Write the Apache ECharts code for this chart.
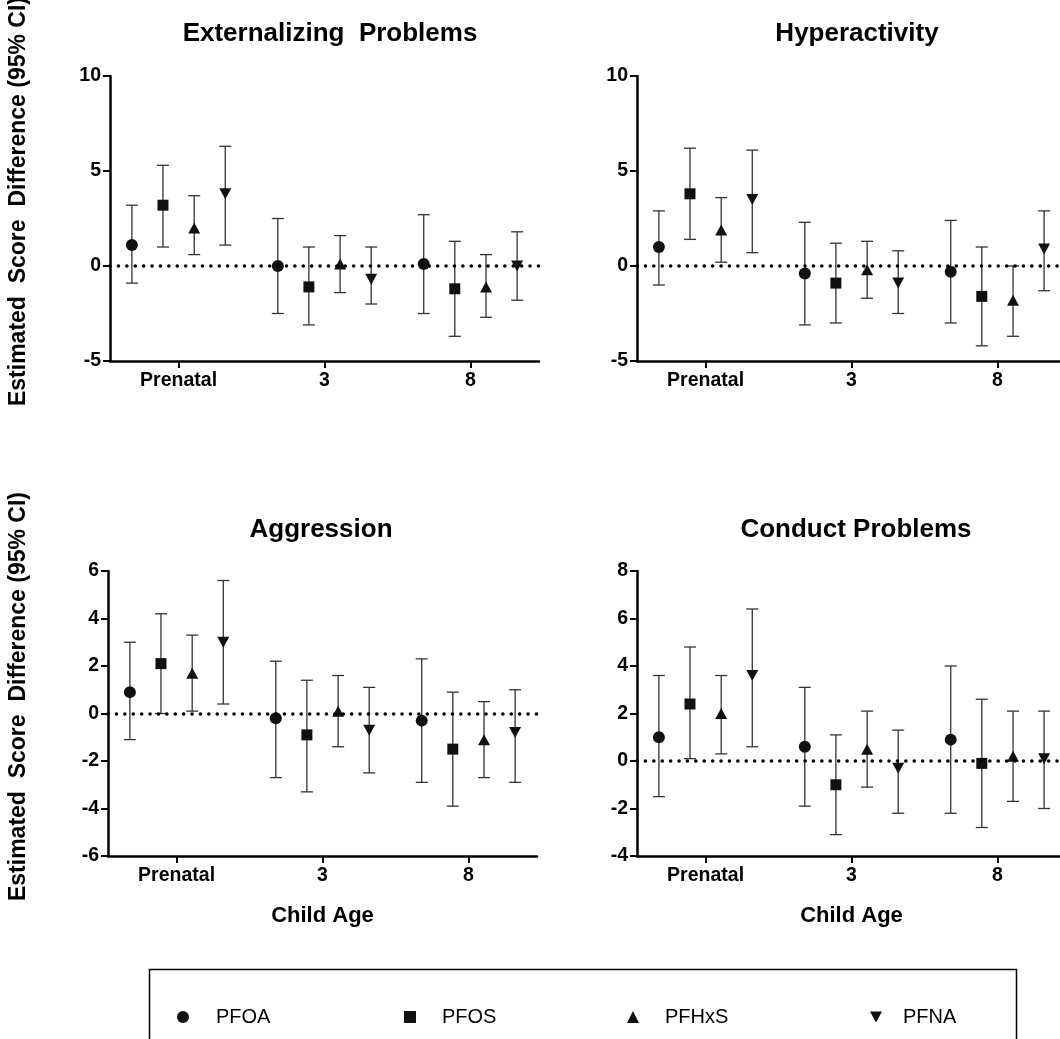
<!DOCTYPE html>
<html><head><meta charset="utf-8">
<script src="https://cdn.jsdelivr.net/npm/echarts@6/dist/echarts.min.js"></script>
<style>html,body{margin:0;padding:0;background:#fff}#c{width:1060px;height:1039px}</style>
</head><body><div id="c"></div>
<script>
// ---- data ----
const ages = ['Prenatal', '3', '8'];
const compounds = ['PFOA', 'PFOS', 'PFHxS', 'PFNA'];
const panelTitles = ['Externalizing  Problems', 'Hyperactivity', 'Aggression', 'Conduct Problems'];
const yTicks = [[-5, 10, 5], [-5, 10, 5], [-6, 6, 2], [-4, 8, 2]]; // [min, max, interval]

// rows = compounds (PFOA, PFOS, PFHxS, PFNA); cols = ages (Prenatal, 3, 8)
const extEst  = [[1.1, 0.0, 0.1], [3.2, -1.1, -1.2], [2.0, 0.1, -1.1], [3.8, -0.7, 0.0]];
const extLow  = [[-0.9, -2.5, -2.5], [1.0, -3.1, -3.7], [0.6, -1.4, -2.7], [1.1, -2.0, -1.8]];
const extHigh = [[3.2, 2.5, 2.7], [5.3, 1.0, 1.3], [3.7, 1.6, 0.6], [6.3, 1.0, 1.8]];

const hypEst  = [[1.0, -0.4, -0.3], [3.8, -0.9, -1.6], [1.9, -0.2, -1.8], [3.5, -0.9, 0.9]];
const hypLow  = [[-1.0, -3.1, -3.0], [1.4, -3.0, -4.2], [0.2, -1.7, -3.7], [0.7, -2.5, -1.3]];
const hypHigh = [[2.9, 2.3, 2.4], [6.2, 1.2, 1.0], [3.6, 1.3, 0.0], [6.1, 0.8, 2.9]];

const aggEst  = [[0.9, -0.2, -0.3], [2.1, -0.9, -1.5], [1.7, 0.1, -1.1], [3.0, -0.7, -0.8]];
const aggLow  = [[-1.1, -2.7, -2.9], [0.0, -3.3, -3.9], [0.1, -1.4, -2.7], [0.4, -2.5, -2.9]];
const aggHigh = [[3.0, 2.2, 2.3], [4.2, 1.4, 0.9], [3.3, 1.6, 0.5], [5.6, 1.1, 1.0]];

const conEst  = [[1.0, 0.6, 0.9], [2.4, -1.0, -0.1], [2.0, 0.5, 0.2], [3.6, -0.3, 0.1]];
const conLow  = [[-1.5, -1.9, -2.2], [0.1, -3.1, -2.8], [0.3, -1.1, -1.7], [0.6, -2.2, -2.0]];
const conHigh = [[3.6, 3.1, 4.0], [4.8, 1.1, 2.6], [3.6, 2.1, 2.1], [6.4, 1.3, 2.1]];

const panels = [
  { est: extEst, low: extLow, high: extHigh },
  { est: hypEst, low: hypLow, high: hypHigh },
  { est: aggEst, low: aggLow, high: aggHigh },
  { est: conEst, low: conLow, high: conHigh }
];

// ---- styling / layout ----
const FONT = "'Liberation Sans', Arial, sans-serif";
const offsets = [-0.32, -0.107, 0.107, 0.32];
const symbols = ['circle', 'rect', 'triangle', 'triangle'];
const rotates = [0, 0, 0, 180];
const sizes = [12, 11, [12, 11], [12, 11]];
const grids = [
  { left: 110, top: 76, width: 429, height: 285, outerBoundsMode: 'none' },
  { left: 637, top: 76, width: 429, height: 285, outerBoundsMode: 'none' },
  { left: 108, top: 571, width: 429, height: 285, outerBoundsMode: 'none' },
  { left: 637, top: 571, width: 429, height: 285, outerBoundsMode: 'none' }
];
const titlePos = [[325, 16], [852, 16], [316, 512], [851, 512]];

function renderErr(params, api) {
  const x = api.value(0), lo = api.value(1), hi = api.value(2);
  const pLo = api.coord([x, lo]), pHi = api.coord([x, hi]);
  const w = 6;
  const style = { stroke: '#333', lineWidth: 1.3 };
  return {
    type: 'group', children: [
      { type: 'line', shape: { x1: pLo[0], y1: pLo[1], x2: pHi[0], y2: pHi[1] }, style },
      { type: 'line', shape: { x1: pHi[0] - w, y1: pHi[1], x2: pHi[0] + w, y2: pHi[1] }, style },
      { type: 'line', shape: { x1: pLo[0] - w, y1: pLo[1], x2: pLo[0] + w, y2: pLo[1] }, style }
    ]
  };
}

const xAxis = [], yAxis = [], series = [], title = [];
panels.forEach((p, pi) => {
  xAxis.push({
    type: 'value', gridIndex: pi, min: -0.47, max: 2.47,
    splitLine: { show: false },
    axisLine: { show: true, onZero: false, lineStyle: { color: '#000', width: 2.5 } },
    axisTick: { show: true, customValues: [0, 1, 2], length: 7, lineStyle: { color: '#000', width: 2 } },
    axisLabel: {
      customValues: [0, 1, 2], formatter: v => ages[Math.round(v)], margin: 10,
      color: '#000', fontSize: 19.5, fontWeight: 'bold', fontFamily: FONT
    },
    name: pi >= 2 ? 'Child Age' : '', nameLocation: 'middle', nameGap: 49,
    nameTextStyle: { color: '#000', fontSize: 22, fontWeight: 'bold', fontFamily: FONT }
  });
  const [mn, mx, iv] = yTicks[pi];
  yAxis.push({
    type: 'value', gridIndex: pi, min: mn, max: mx, interval: iv,
    splitLine: { show: false },
    axisLine: { show: true, onZero: false, lineStyle: { color: '#000', width: 2.5 } },
    axisTick: { show: true, length: 7, lineStyle: { color: '#000', width: 2 } },
    axisLabel: { color: '#000', fontSize: 19.5, fontWeight: 'bold', fontFamily: FONT, margin: 9 },
    name: (pi % 2 === 0) ? 'Estimated  Score  Difference (95% CI)' : '',
    nameLocation: 'middle', nameGap: pi === 0 ? 80 : 78,
    nameTextStyle: { color: '#000', fontSize: 23, fontWeight: 'bold', fontFamily: FONT, padding: [0, 0, 0, 34] }
  });
  title.push({
    text: panelTitles[pi], left: titlePos[pi][0], top: titlePos[pi][1], textAlign: 'center',
    textStyle: { color: '#000', fontSize: 26, fontWeight: 'bold', fontFamily: FONT }
  });
  compounds.forEach((c, ci) => {
    const errData = ages.map((a, ai) => [ai + offsets[ci], p.low[ci][ai], p.high[ci][ai]]);
    series.push({
      type: 'custom', name: c + ' CI', xAxisIndex: pi, yAxisIndex: pi,
      renderItem: renderErr, data: errData, encode: { x: 0, y: [1, 2] }, z: 2, silent: true
    });
    const s = {
      type: 'scatter', name: c, xAxisIndex: pi, yAxisIndex: pi,
      data: ages.map((a, ai) => [ai + offsets[ci], p.est[ci][ai]]),
      symbol: symbols[ci], symbolRotate: rotates[ci], symbolSize: sizes[ci],
      itemStyle: { color: '#111', opacity: 1 }, z: 4, silent: true
    };
    if (ci === 0) {
      s.markLine = {
        silent: true, symbol: 'none', animation: false, label: { show: false },
        lineStyle: { color: '#000', width: 3.5, type: [0.1, 8.3], cap: 'round' },
        data: [{ yAxis: 0 }]
      };
    }
    series.push(s);
  });
});

const legendLeft = [172, 399, 622, 865];
const legendIcons = ['circle', 'rect', 'triangle', 'path://M0,0L10,0L5,9Z'];
const legendPad = [22, 21, 21, 16];
const legend = compounds.map((c, i) => ({
  data: [{ name: c, icon: legendIcons[i] }],
  left: legendLeft[i], top: 1002, itemWidth: 12, itemHeight: 12, selectedMode: false,
  textStyle: { color: '#000', fontSize: 20, fontFamily: FONT, padding: [0, 0, 0, legendPad[i]] }
}));

const chart = echarts.init(document.getElementById('c'), null, { renderer: 'canvas' });
chart.setOption({
  animation: false,
  backgroundColor: '#fff',
  title, grid: grids, xAxis, yAxis, series, legend,
  graphic: [{
    type: 'rect', left: 147, top: 967, silent: true,
    shape: { width: 867, height: 120 },
    style: { fill: 'none', stroke: '#000', lineWidth: 1.5 }
  }]
});
</script></body></html>
